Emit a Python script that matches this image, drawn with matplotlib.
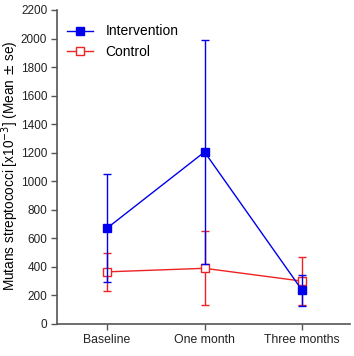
import matplotlib
matplotlib.use('Agg')
import matplotlib.pyplot as plt
from matplotlib.lines import Line2D
import numpy as np

plt.rcParams['font.family'] = ['Liberation Sans', 'DejaVu Sans']

timepoints = ['Baseline', 'One month', 'Three months']
interv_mean = [670, 1205, 235]
interv_se = [378, 785, 110]
control_mean = [365, 390, 300]
control_se = [133, 260, 170]

blue = '#0000ee'
red = '#ee2222'

fig = plt.figure(figsize=(3.54, 3.56), dpi=100)
ax = fig.add_axes([0.161, 0.090, 0.828, 0.882])
x = np.arange(len(timepoints))

ax.errorbar(x, interv_mean, yerr=interv_se, color=blue, marker='s',
            ms=5.5, lw=1, capsize=3, capthick=1, elinewidth=1, zorder=3)
ax.errorbar(x, control_mean, yerr=control_se, color=red, marker='s',
            ms=5.5, mfc='white', mew=1, lw=1, capsize=3, capthick=1,
            elinewidth=1, zorder=2)

ax.set_xlim(-0.51, 2.49)
ax.set_ylim(0, 2200)
ax.set_yticks(np.arange(0, 2201, 200))
ax.set_xticks(x)
ax.set_xticklabels(timepoints)
ax.tick_params(labelsize=8.8, color='#555555', labelcolor='#222222',
               length=4, width=1)
ax.tick_params(axis='y', labelsize=8.5, pad=3)
for s in ['top', 'right']:
    ax.spines[s].set_visible(False)
for s in ['left', 'bottom']:
    ax.spines[s].set_color('#555555')
    ax.spines[s].set_linewidth(1.2)
ax.set_ylabel('Mutans streptococci [x10$^{-3}$] (Mean $\\pm$ se)',
              fontsize=9.8)
ax.yaxis.set_label_coords(-0.122, 0.505)

handles = [Line2D([], [], color=blue, marker='s', ms=5.5, lw=1),
           Line2D([], [], color=red, marker='s', ms=5.5, mfc='white', lw=1)]
ax.legend(handles, ['Intervention', 'Control'], loc='upper left',
          frameon=False, fontsize=10, handlelength=1.9, handletextpad=0.9,
          bbox_to_anchor=(0.0, 0.985), borderaxespad=0.3, labelspacing=0.5)

fig.savefig('out.png', dpi=100)
